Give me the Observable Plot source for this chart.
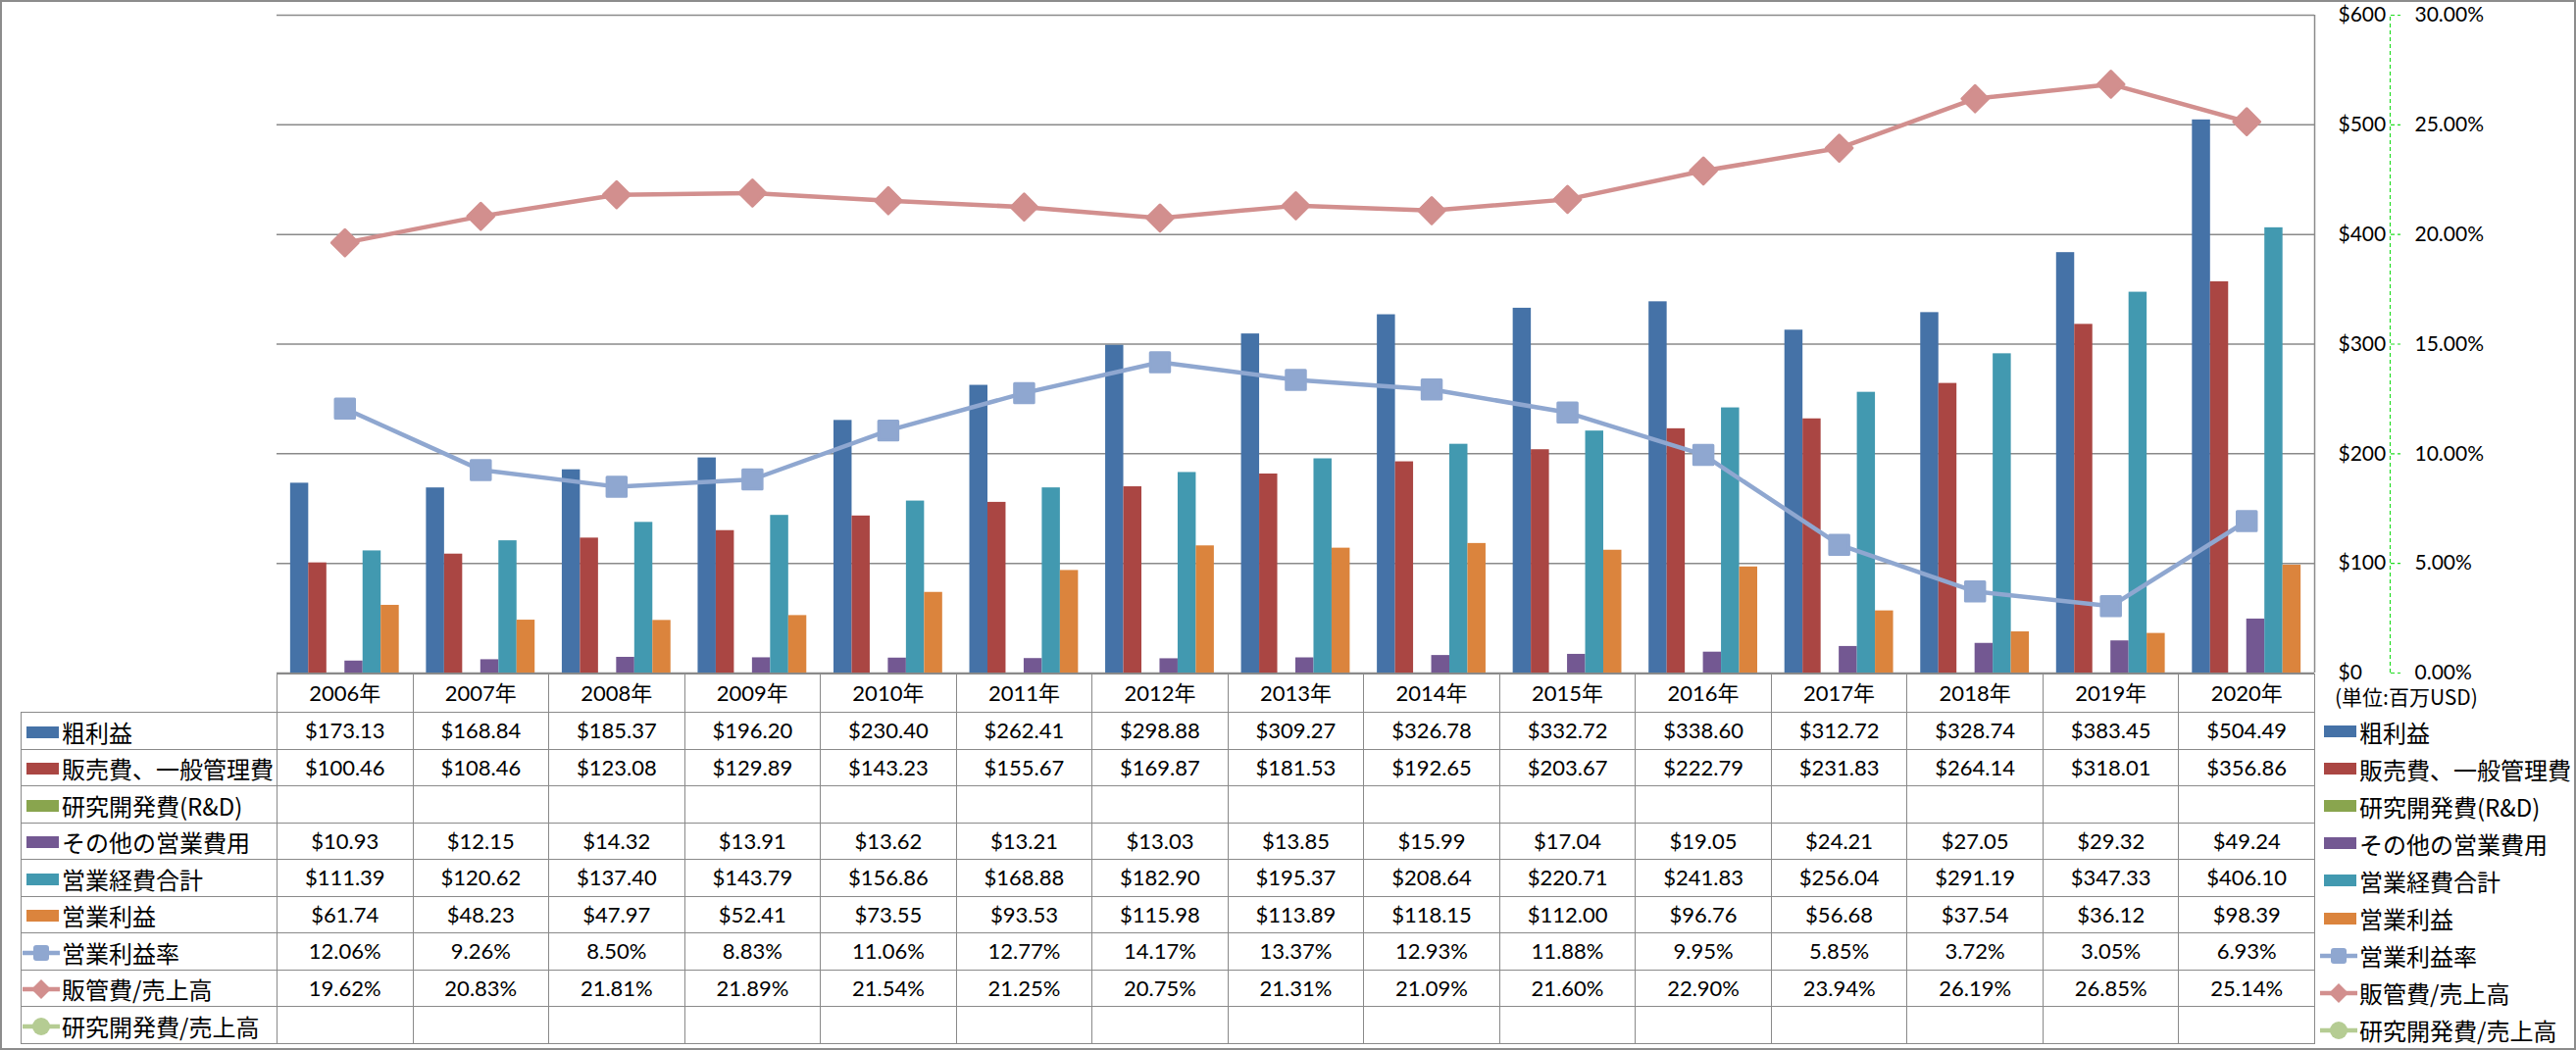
<!DOCTYPE html>
<html>
<head>
<meta charset="utf-8">
<script src="https://cdn.jsdelivr.net/npm/d3@7"></script>
<script src="https://cdn.jsdelivr.net/npm/@observablehq/plot@0.6"></script>
<style>
  html, body { margin: 0; padding: 0; background: #fff; }
  #wrap { position: relative; width: 2627px; height: 1071px; overflow: hidden; background: #fff;
          font-family: Lato, "Noto Sans CJK JP", sans-serif; color: #000; }
  #frame { position: absolute; left: 0; top: 0; width: 2627px; height: 1071px; box-sizing: border-box;
           border: 2px solid #8c8c8c; pointer-events: none; }
  #chart { position: absolute; left: 0; top: 0; }
  #chart svg { overflow: visible; }
  table.dt { position: absolute; left: 21px; top: 687px; border-collapse: collapse; table-layout: fixed; width: 2339px; }
  table.dt td { border: 1.5px solid #8a8a8a; padding: 0; text-align: center; vertical-align: middle;
                font-family: Lato, "Noto Sans CJK JP", sans-serif; font-size: 22px; line-height: 1; white-space: nowrap; }
  table.dt tr.hd td { height: 38px; }
  table.dt tr.rw td { height: 36.5px; }
  table.dt td.lab { text-align: left; font-family: "Noto Sans CJK JP", sans-serif; font-size: 24px; }
  table.dt td.blank { border-top: none; border-left: none; }
  .sw { display: inline-block; vertical-align: middle; }
  .lab span.t { vertical-align: middle; }
  #legend { position: absolute; left: 2365px; top: 727px; }
  #legend .it { height: 38.1px; display: flex; align-items: center; font-family: "Noto Sans CJK JP", sans-serif; font-size: 24px; white-space: nowrap; }
  #unit { position: absolute; left: 2381px; top: 698px; font-family: "Noto Sans CJK JP", sans-serif; font-size: 21px; line-height: 1.2; }
</style>
</head>
<body>
<div id="wrap">
  <div id="chart"></div>
  <div id="unit">(単位:百万USD)</div>
  <div id="legend"></div>
  <div id="frame"></div>
</div>
<script>
// ---------------- data ----------------
const years = ["2006年","2007年","2008年","2009年","2010年","2011年","2012年","2013年","2014年","2015年","2016年","2017年","2018年","2019年","2020年"];

const grossProfit = [173.13,168.84,185.37,196.20,230.40,262.41,298.88,309.27,326.78,332.72,338.60,312.72,328.74,383.45,504.49];
const sgaExpense  = [100.46,108.46,123.08,129.89,143.23,155.67,169.87,181.53,192.65,203.67,222.79,231.83,264.14,318.01,356.86];
const rndExpense  = [null,null,null,null,null,null,null,null,null,null,null,null,null,null,null];
const otherOpex   = [10.93,12.15,14.32,13.91,13.62,13.21,13.03,13.85,15.99,17.04,19.05,24.21,27.05,29.32,49.24];
const totalOpex   = [111.39,120.62,137.40,143.79,156.86,168.88,182.90,195.37,208.64,220.71,241.83,256.04,291.19,347.33,406.10];
const opIncome    = [61.74,48.23,47.97,52.41,73.55,93.53,115.98,113.89,118.15,112.00,96.76,56.68,37.54,36.12,98.39];

const opMarginPct = [12.06,9.26,8.50,8.83,11.06,12.77,14.17,13.37,12.93,11.88,9.95,5.85,3.72,3.05,6.93];
const sgaRatioPct = [19.62,20.83,21.81,21.89,21.54,21.25,20.75,21.31,21.09,21.60,22.90,23.94,26.19,26.85,25.14];
const rndRatioPct = [null,null,null,null,null,null,null,null,null,null,null,null,null,null,null];

const barNames  = ["粗利益","販売費、一般管理費","研究開発費(R&D)","その他の営業費用","営業経費合計","営業利益"];
const barValues = [grossProfit, sgaExpense, rndExpense, otherOpex, totalOpex, opIncome];
const barColors = ["#4572A7","#AA4643","#89A54E","#735892","#4299B0","#DB843D"];

const lineNames   = ["営業利益率","販管費/売上高","研究開発費/売上高"];
const lineValues  = [opMarginPct, sgaRatioPct, rndRatioPct];
const lineColors  = ["#8FA7D0","#D28F8E","#B5CC93"];
const lineSymbols = ["square","diamond2","circle"];

const yTicks = [0,100,200,300,400,500,600];
const pctMax = 30;     // secondary axis max (%)
const yMax = 600;      // primary axis max ($)

// ---------------- derived ----------------
const pctToY = yMax / pctMax;
const nSeries = barNames.length;
const outerPad = 0.75;
const step = 1 / (nSeries + 2 * outerPad);
const xDomain = [0, years.length];

const barData = [];
barValues.forEach((vals, k) => vals.forEach((v, i) => {
  if (v != null) barData.push({series: barNames[k], value: v, x1: i + (outerPad + k) * step, x2: i + (outerPad + k + 1) * step});
}));
const lineData = lineValues.map((vals, k) => vals.map((v, i) => ({series: lineNames[k], x: i + 0.5, y: v == null ? null : v * pctToY})).filter(d => d.y != null));

const marks = [
  Plot.ruleY(yTicks, {stroke: "#8a8a8a", strokeWidth: 1.5}),
  Plot.ruleX([xDomain[1]], {y1: 0, y2: yMax, stroke: "#8a8a8a", strokeWidth: 1.5}),
  Plot.rectY(barData, {x1: "x1", x2: "x2", y: "value", fill: "series"}),
];
lineData.forEach((d, k) => {
  if (!d.length) return;
  marks.push(Plot.line(d, {x: "x", y: "y", stroke: lineColors[k], strokeWidth: 4.5}));
  marks.push(Plot.dot(d, {x: "x", y: "y", symbol: lineSymbols[k], r: k === 0 ? 11 : 12, fill: lineColors[k], stroke: lineColors[k], strokeWidth: 3, strokeLinejoin: "round"}));
});
marks.push(
  Plot.ruleX([xDomain[1]], {y1: 0, y2: yMax, dx: 77, stroke: "#22dd22", strokeWidth: 1.2, strokeDasharray: "4,3"}),
  Plot.axisY(yTicks, {anchor: "right", tickSize: 10, dx: 77, stroke: "#22dd22", strokeWidth: 1.2, strokeDasharray: "4,3", tickFormat: () => ""}),
  Plot.axisY(yTicks, {anchor: "right", tickSize: 0, tickPadding: 24, tickFormat: d => "$" + d, fontSize: 21, fill: "#000"}),
  Plot.axisY(yTicks, {anchor: "right", tickSize: 0, tickPadding: 102, tickFormat: d => (d / pctToY).toFixed(2) + "%", fontSize: 21, fill: "#000"})
);

const chart = Plot.plot({
  width: 2627, height: 700,
  marginLeft: 282, marginRight: 267, marginTop: 15, marginBottom: 14,
  x: {type: "linear", domain: xDomain, axis: null},
  y: {domain: [0, yMax], axis: null},
  color: {domain: barNames, range: barColors},
  style: {fontFamily: "Lato, 'Noto Sans CJK JP', sans-serif", fontSize: "21px", color: "#000", background: "transparent"},
  marks
});
document.getElementById("chart").appendChild(chart);

// ---------------- table + legend ----------------
const money = v => v == null ? "" : "$" + v.toFixed(2);
const pct = v => v == null ? "" : v.toFixed(2) + "%";

function swatchBar(color) {
  return `<span class="sw" style="width:33px;height:12px;background:${color};margin:0 3px 0 5px"></span>`;
}
function swatchLine(color, symbol) {
  let m;
  if (symbol === "square") m = `<rect x="12" y="2" width="16" height="16" rx="3" fill="${color}"/>`;
  else if (symbol === "diamond2") m = `<path d="M20 0 L30 10 L20 20 L10 10 Z" fill="${color}"/>`;
  else m = `<circle cx="20" cy="10" r="9" fill="${color}"/>`;
  return `<svg class="sw" width="40" height="20" style="margin:0 1px 0 0"><line x1="1" y1="10" x2="39" y2="10" stroke="${color}" stroke-width="4.5"/>${m}</svg>`;
}

const rows = [];
barNames.forEach((n, k) => rows.push({name: n, sw: swatchBar(barColors[k]), vals: barValues[k].map(money)}));
lineNames.forEach((n, k) => rows.push({name: n, sw: swatchLine(lineColors[k], lineSymbols[k]), vals: lineValues[k].map(pct)}));

const colW = (2360 - 282) / years.length;
let html = `<table class="dt"><colgroup><col style="width:261px">` + years.map(() => `<col style="width:${colW}px">`).join("") + `</colgroup>`;
html += `<tr class="hd"><td class="blank"></td>` + years.map(y => `<td>${y}</td>`).join("") + `</tr>`;
rows.forEach(r => {
  html += `<tr class="rw"><td class="lab">${r.sw}<span class="t">${r.name}</span></td>` + r.vals.map(v => `<td>${v}</td>`).join("") + `</tr>`;
});
html += `</table>`;
document.getElementById("wrap").insertAdjacentHTML("beforeend", html);

document.getElementById("legend").innerHTML = rows.map(r => `<div class="it">${r.sw}<span>${r.name}</span></div>`).join("");
</script>
</body>
</html>
